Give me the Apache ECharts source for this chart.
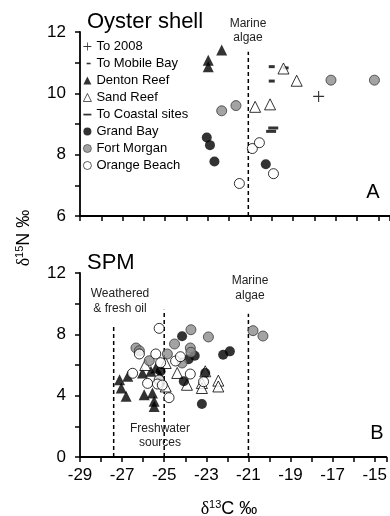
<!DOCTYPE html>
<html>
<head>
<meta charset="utf-8">
<script src="https://cdn.jsdelivr.net/npm/echarts@6/dist/echarts.min.js"></script>
<style>
html,body{margin:0;padding:0;background:#fff;}
#c{width:390px;height:516px;}
</style>
</head>
<body>
<div id="c"></div>
<script>
// ---- Data: panel A (Oyster shell), [d13C, d15N] ----
var to2008A = [[-17.8, 9.9]];
var toMobileBayA = [[-20.0, 10.87], [-20.0, 10.4], [-19.35, 10.83]];
var dentonA = [[-22.98, 11.08], [-22.98, 10.87], [-22.35, 11.41]];
var sandA = [[-19.45, 10.81], [-18.83, 10.41], [-20.78, 9.56], [-20.08, 9.64]];
var coastalA = [[-19.93, 8.87], [-20.03, 8.76]];
var grandBayA = [[-23.05, 8.56], [-22.9, 8.31], [-22.69, 7.78], [-20.28, 7.69]];
var fortMorganA = [[-22.35, 9.43], [-21.68, 9.6], [-17.22, 10.43], [-15.18, 10.43]];
var orangeA = [[-21.52, 7.06], [-20.91, 8.2], [-20.58, 8.39], [-19.92, 7.38]];

// ---- Data: panel B (SPM) ----
var dentonB = [[-27.12, 5.04], [-26.73, 5.26], [-27.04, 4.5], [-26.81, 3.96], [-26.03, 5.48],
  [-25.95, 4.06], [-25.56, 4.17], [-25.48, 3.63], [-25.48, 3.3], [-25.63, 5.59], [-25.4, 5.8], [-25.2, 5.3]];
var sandB = [[-24.93, 6.13], [-24.38, 5.48], [-23.92, 4.71], [-23.21, 4.82], [-23.05, 5.59],
  [-23.21, 4.5], [-22.43, 4.98], [-22.43, 4.6], [-24.93, 4.6], [-25.9, 6.0]];
var grandBayB = [[-24.15, 7.87], [-23.84, 6.37], [-23.55, 6.6], [-22.2, 6.67], [-21.88, 6.89],
  [-23.05, 5.48], [-23.21, 3.46], [-24.07, 4.94], [-25.17, 5.59]];
var fortMorganB = [[-26.34, 7.11], [-26.18, 6.93], [-25.71, 6.28], [-23.73, 8.3], [-22.9, 7.83],
  [-24.51, 7.37], [-23.76, 7.11], [-23.73, 6.83], [-24.85, 6.72], [-24.15, 6.13], [-20.78, 8.24], [-20.31, 7.89]];
var orangeB = [[-25.24, 8.39], [-26.18, 6.72], [-25.4, 6.72], [-24.46, 6.26], [-25.17, 6.15],
  [-26.5, 5.46], [-25.79, 4.8], [-25.24, 5.02], [-25.32, 4.76], [-25.09, 4.69], [-24.77, 3.87],
  [-23.76, 5.41], [-24.23, 6.54], [-23.13, 4.91]];

// ---- Reference divider lines ----
var algaeLineA = [[-21.1, 6], [-21.1, 11.36]];
var oilLineB = [[-27.4, 0], [-27.4, 8.6]];
var freshLineB = [[-25.0, 0], [-25.0, 9.6]];
var algaeLineB = [[-21.0, 0], [-21.0, 9.35]];

// ---- Axis settings ----
var xMin = -29, xMax = -14.45;
var yMinA = 6, yMaxA = 12, yMinB = 0, yMaxB = 12;

var FONT = 'Liberation Sans, Arial, sans-serif';
var PLUS = 'path://M0,4.5H10V5.5H0Z M4.5,0H5.5V10H4.5Z';
var SHORTDASH_ICON = 'path://M0,0M10,10M4,4H9V6H4Z';
var LONGDASH_ICON = 'path://M0,0M10,10M0,4H10V6.2H0Z';

var styles = {
  'To 2008': {symbol: PLUS, symbolSize: 11, itemStyle: {color: '#000'}},
  'To Mobile Bay': {symbol: 'rect', symbolSize: [6, 3], itemStyle: {color: '#000'}},
  'Denton Reef': {symbol: 'triangle', symbolSize: 11, itemStyle: {color: '#000'}},
  'Sand Reef': {symbol: 'triangle', symbolSize: 11, itemStyle: {color: '#fff', borderColor: '#000', borderWidth: 1}},
  'To Coastal sites': {symbol: 'rect', symbolSize: [10, 3], itemStyle: {color: '#000'}},
  'Grand Bay': {symbol: 'circle', symbolSize: 10, itemStyle: {color: '#000'}},
  'Fort Morgan': {symbol: 'circle', symbolSize: 10, itemStyle: {color: '#8c8c8c', borderColor: '#3a3a3a', borderWidth: 1}},
  'Orange Beach': {symbol: 'circle', symbolSize: 10, itemStyle: {color: '#fff', borderColor: '#000', borderWidth: 1}}
};

function scatter(name, data, idx) {
  var s = styles[name];
  return {
    type: 'scatter', name: name, data: data, xAxisIndex: idx, yAxisIndex: idx,
    symbol: s.symbol, symbolSize: s.symbolSize, itemStyle: s.itemStyle,
    silent: true, emphasis: {disabled: true}
  };
}
function dashLine(data, idx) {
  return {
    type: 'line', data: data, xAxisIndex: idx, yAxisIndex: idx, showSymbol: false, symbol: 'none',
    lineStyle: {color: '#000', width: 1.5, type: [4, 3]}, silent: true, z: 1
  };
}

var xAxisBase = function (idx, showLabels) {
  return {
    type: 'value', gridIndex: idx, min: xMin, max: xMax, interval: 1,
    splitLine: {show: false},
    axisLine: {show: true, onZero: false, lineStyle: {color: '#000', width: 1.8}},
    axisTick: {show: true, inside: false, length: 5, lineStyle: {color: '#000', width: 1.5}},
    axisLabel: {
      show: showLabels, margin: 10, fontSize: 17, color: '#000', fontFamily: FONT,
      formatter: function (v) { return (Number.isInteger(v) && Math.abs(v) % 2 === 1) ? String(v) : ''; }
    }
  };
};
var yAxisBase = function (idx, min, max, interval, labelStep) {
  return {
    type: 'value', gridIndex: idx, min: min, max: max, interval: interval,
    splitLine: {show: false},
    axisLine: {show: true, onZero: false, lineStyle: {color: '#000', width: 1.8}},
    axisTick: {show: true, inside: false, length: 5, lineStyle: {color: '#000', width: 1.5}},
    axisLabel: {
      margin: 14, fontSize: 17, color: '#000', fontFamily: FONT,
      formatter: function (v) { return (Math.round(v) % labelStep === 0) ? String(v) : ''; }
    }
  };
};

var legendNames = ['To 2008', 'To Mobile Bay', 'Denton Reef', 'Sand Reef', 'To Coastal sites', 'Grand Bay', 'Fort Morgan', 'Orange Beach'];
var legendIcons = {'To 2008': PLUS, 'To Mobile Bay': SHORTDASH_ICON, 'To Coastal sites': LONGDASH_ICON};

var txt = function (x, y, text, size, align, extra) {
  var o = {type: 'text', x: x, y: y, silent: true, z: 100,
    style: {text: text, fill: '#000', font: size + 'px ' + FONT, align: align || 'left', verticalAlign: 'middle'}};
  if (extra) { for (var k in extra) o.style[k] = extra[k]; }
  return o;
};

var option = {
  animation: false,
  backgroundColor: '#fff',
  grid: [
    {left: 80, top: 32, width: 310, height: 184},
    {left: 80, top: 273, width: 310, height: 184}
  ],
  xAxis: [xAxisBase(0, false), xAxisBase(1, true)],
  yAxis: [yAxisBase(0, yMinA, yMaxA, 1, 2), yAxisBase(1, yMinB, yMaxB, 2, 4)],
  legend: {
    orient: 'vertical', left: 83, top: 40, itemWidth: 8, itemHeight: 8, itemGap: 4,
    padding: 0, selectedMode: false,
    itemStyle: {borderWidth: 0.8},
    textStyle: {fontSize: 13, lineHeight: 13, color: '#000', fontFamily: FONT},
    data: legendNames.map(function (n) { return legendIcons[n] ? {name: n, icon: legendIcons[n]} : {name: n}; })
  },
  series: [
    dashLine(algaeLineA, 0),
    dashLine(oilLineB, 1),
    dashLine(freshLineB, 1),
    dashLine(algaeLineB, 1),
    scatter('To 2008', to2008A, 0),
    scatter('To Mobile Bay', toMobileBayA, 0),
    scatter('Denton Reef', dentonA, 0),
    scatter('Sand Reef', sandA, 0),
    scatter('To Coastal sites', coastalA, 0),
    scatter('Grand Bay', grandBayA, 0),
    scatter('Fort Morgan', fortMorganA, 0),
    scatter('Orange Beach', orangeA, 0),
    scatter('Denton Reef', dentonB, 1),
    scatter('Sand Reef', sandB, 1),
    scatter('Grand Bay', grandBayB, 1),
    scatter('Fort Morgan', fortMorganB, 1),
    scatter('Orange Beach', orangeB, 1)
  ],
  graphic: [
    txt(87, 22, 'Oyster shell', 22),
    txt(87, 263, 'SPM', 22),
    txt(248, 30.5, 'Marine\nalgae', 12, 'center', {lineHeight: 14, fill: '#222'}),
    txt(250, 288.5, 'Marine\nalgae', 12, 'center', {lineHeight: 15, fill: '#222'}),
    txt(120, 301.5, 'Weathered\n& fresh oil', 12, 'center', {lineHeight: 15, fill: '#222'}),
    txt(160, 436, 'Freshwater\nsources', 12, 'center', {lineHeight: 14, fill: '#222'}),
    txt(373, 192, 'A', 20, 'center'),
    txt(377, 433, 'B', 20, 'center'),
    {type: 'text', x: 229, y: 509, silent: true, z: 100,
      style: {text: '{d|δ}{s|13}{n|C ‰}', align: 'center', verticalAlign: 'middle', fill: '#000',
        rich: {d: {fontSize: 18, fontFamily: 'Liberation Serif, serif'},
               s: {fontSize: 11, fontFamily: FONT, padding: [0, 0, 9, 0]},
               n: {fontSize: 18, fontFamily: FONT}}}},
    {type: 'text', x: 24, y: 238, rotation: Math.PI / 2, silent: true, z: 100,
      style: {text: '{d|δ}{s|15}{n|N ‰}', align: 'center', verticalAlign: 'middle', fill: '#000',
        rich: {d: {fontSize: 18, fontFamily: 'Liberation Serif, serif'},
               s: {fontSize: 11, fontFamily: FONT, padding: [0, 0, 9, 0]},
               n: {fontSize: 18, fontFamily: FONT}}}}
  ]
};

var chart = echarts.init(document.getElementById('c'), null, {renderer: 'canvas'});
chart.setOption(option);
</script>
</body>
</html>
